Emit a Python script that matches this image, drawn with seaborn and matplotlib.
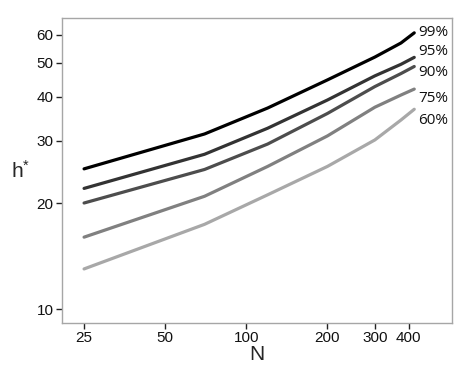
import numpy as np
import pandas as pd
import matplotlib
matplotlib.use("Agg")
import matplotlib.pyplot as plt
import seaborn as sns
from matplotlib.ticker import FixedLocator, NullLocator, FixedFormatter

# Data
N = [25, 70, 120, 200, 300, 375, 420]
levels = ["99%", "95%", "90%", "75%", "60%"]
h99 = [25.0, 31.4, 37.2, 44.7, 51.9, 56.9, 60.8]
h95 = [22.0, 27.5, 32.6, 39.2, 45.9, 49.5, 51.8]
h90 = [20.0, 24.9, 29.4, 35.9, 42.8, 46.6, 48.8]
h75 = [16.0, 20.9, 25.4, 31.0, 37.4, 40.5, 42.1]
h60 = [13.0, 17.4, 21.1, 25.4, 30.2, 34.4, 36.9]
xticks = [25, 50, 100, 200, 300, 400]
yticks = [10, 20, 30, 40, 50, 60]

series = [h99, h95, h90, h75, h60]
df = pd.DataFrame({
    "N": N * len(levels),
    "h": sum(series, []),
    "level": sum([[lv] * len(N) for lv in levels], []),
})

palette = {"99%": "#000000", "95%": "#333333", "90%": "#4d4d4d",
           "75%": "#808080", "60%": "#a8a8a8"}
label_y = [61.1, 53.7, 46.8, 39.5, 34.4]

sns.set_style("ticks")
plt.rcParams["font.family"] = ["Liberation Sans", "DejaVu Sans"]
plt.rcParams["mathtext.fontset"] = "custom"
plt.rcParams["mathtext.rm"] = "Liberation Sans"
plt.rcParams["mathtext.it"] = "Liberation Sans"

fig = plt.figure(figsize=(4.71, 3.77), dpi=100)
ax = fig.add_axes([0.1316, 0.1432, 0.9597 - 0.1316, 0.9523 - 0.1432])

sns.lineplot(data=df, x="N", y="h", hue="level", palette=palette,
             linewidth=2.3, legend=False, ax=ax, sort=True)
ax.set_xscale("log")
ax.set_yscale("log")
ax.set_xlim(20.7, 580)
ax.set_ylim(9.13, 67)

ax.xaxis.set_major_locator(FixedLocator(xticks))
ax.xaxis.set_major_formatter(FixedFormatter([str(t) for t in xticks]))
ax.xaxis.set_minor_locator(NullLocator())
ax.yaxis.set_major_locator(FixedLocator(yticks))
ax.yaxis.set_major_formatter(FixedFormatter([str(t) for t in yticks]))
ax.yaxis.set_minor_locator(NullLocator())

for s in ax.spines.values():
    s.set_color("#a6a6a6")
    s.set_linewidth(1.0)
ax.tick_params(axis="both", which="major", length=4, width=1.0,
               color="#222222", labelsize=11, labelcolor="#111111", pad=2)

ax.set_xlabel("N", fontsize=15, labelpad=0)
ax.set_ylabel(r"$\mathrm{h}^{*}$", fontsize=15, rotation=0, va="center")
ax.yaxis.set_label_coords(-0.105, 0.5)

for lv, ly in zip(levels, label_y):
    ax.text(435, ly, lv, fontsize=11, va="center", ha="left",
            family=["Open Sans", "DejaVu Sans"], color="#111111", clip_on=False)

fig.savefig("out.png", dpi=100)
